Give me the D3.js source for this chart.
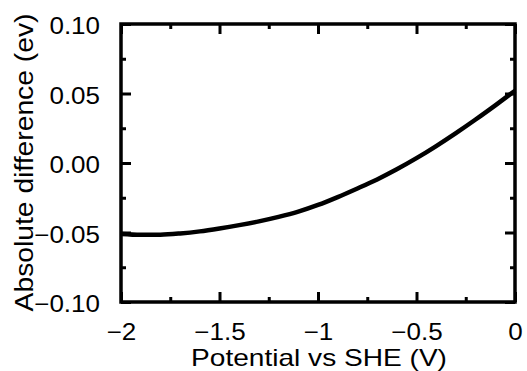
<!DOCTYPE html>
<html>
<head>
<meta charset="utf-8">
<script src="https://cdn.jsdelivr.net/npm/d3@7"></script>
<style>
  html, body { margin: 0; padding: 0; background: #fff; }
  svg { display: block; }
  text { font-family: "Liberation Sans", Arial, Helvetica, sans-serif; fill: #000; }
</style>
</head>
<body>
<svg id="chart" width="527" height="371"></svg>
<script>
// Potential vs SHE (V)
const potential = [-2.0, -1.9, -1.8, -1.7, -1.6, -1.5, -1.4, -1.3, -1.2, -1.1, -1.0,
                   -0.9, -0.8, -0.7, -0.6, -0.5, -0.4, -0.3, -0.2, -0.1, 0.0];
// Absolute difference (eV)
const difference = [-0.0511, -0.0517, -0.0516, -0.0507, -0.0492, -0.0471, -0.0447, -0.0420,
                    -0.0388, -0.0350, -0.0302, -0.0245, -0.0183, -0.0118, -0.0045, 0.0035,
                    0.0122, 0.0215, 0.0313, 0.0415, 0.0520];
const xMajorTicks = [-2, -1.5, -1, -0.5, 0];
const xMinorTicks = [-1.75, -1.25, -0.75, -0.25];
const yMajorTicks = [-0.10, -0.05, 0.00, 0.05, 0.10];
const yMinorTicks = [-0.075, -0.025, 0.025, 0.075];

const svg = d3.select("#chart");
const plotLeft = 121, plotRight = 515, plotTop = 24, plotBottom = 302;

const x = d3.scaleLinear().domain([-2, 0]).range([plotLeft, plotRight]);
const y = d3.scaleLinear().domain([-0.1, 0.1]).range([plotBottom, plotTop]);

const majorLen = 10, minorLen = 5;
const tickFont = 23;

// Stretch a text along its baseline by a given factor (the typeface is drawn wider than Liberation Sans)
function widenText(sel, factor = 1.13) {
  sel.each(function () {
    const len = this.getComputedTextLength();
    if (len > 0) {
      d3.select(this).attr("textLength", len * factor).attr("lengthAdjust", "spacingAndGlyphs");
    }
  });
}

function styleAxis(g) {
  g.select(".domain").remove();
  g.selectAll(".tick line").attr("stroke", "#000").attr("stroke-width", 3);
  g.selectAll(".tick text").attr("font-size", tickFont)
    .attr("font-family", "'Liberation Sans', Arial, Helvetica, sans-serif")
    .call(widenText);
}

// Bottom and left axes carry labels
svg.append("g").attr("transform", `translate(0,${plotBottom})`)
  .call(d3.axisBottom(x).tickValues(xMajorTicks).tickSize(-majorLen).tickPadding(21.5)
        .tickFormat(d3.format("")))
  .call(styleAxis);
svg.append("g").attr("transform", `translate(${plotLeft},0)`)
  .call(d3.axisLeft(y).tickValues(yMajorTicks).tickSize(-majorLen).tickPadding(21)
        .tickFormat(d3.format(".2f")))
  .call(g => g.selectAll(".tick text").attr("dy", "0.42em"))
  .call(styleAxis);

// Top and right mirrored ticks, no labels
svg.append("g").attr("transform", `translate(0,${plotTop})`)
  .call(d3.axisTop(x).tickValues(xMajorTicks).tickSize(-majorLen).tickFormat(""))
  .call(styleAxis);
svg.append("g").attr("transform", `translate(${plotRight},0)`)
  .call(d3.axisRight(y).tickValues(yMajorTicks).tickSize(-majorLen).tickFormat(""))
  .call(styleAxis);

// Minor ticks on all four sides
svg.append("g").attr("transform", `translate(0,${plotBottom})`)
  .call(d3.axisBottom(x).tickValues(xMinorTicks).tickSize(-minorLen).tickFormat(""))
  .call(styleAxis);
svg.append("g").attr("transform", `translate(0,${plotTop})`)
  .call(d3.axisTop(x).tickValues(xMinorTicks).tickSize(-minorLen).tickFormat(""))
  .call(styleAxis);
svg.append("g").attr("transform", `translate(${plotLeft},0)`)
  .call(d3.axisLeft(y).tickValues(yMinorTicks).tickSize(-minorLen).tickFormat(""))
  .call(styleAxis);
svg.append("g").attr("transform", `translate(${plotRight},0)`)
  .call(d3.axisRight(y).tickValues(yMinorTicks).tickSize(-minorLen).tickFormat(""))
  .call(styleAxis);

// Data curve
const data = potential.map((p, i) => [p, difference[i]]);
svg.append("path")
  .datum(data)
  .attr("fill", "none")
  .attr("stroke", "#000")
  .attr("stroke-width", 4.5)
  .attr("d", d3.line().x(d => x(d[0])).y(d => y(d[1])).curve(d3.curveMonotoneX));

// Plot frame
svg.append("rect")
  .attr("x", plotLeft).attr("y", plotTop)
  .attr("width", plotRight - plotLeft).attr("height", plotBottom - plotTop)
  .attr("fill", "none").attr("stroke", "#000").attr("stroke-width", 3.5);

// Axis titles
svg.append("text")
  .attr("x", (plotLeft + plotRight) / 2 + 1).attr("y", 366)
  .attr("text-anchor", "middle").attr("font-size", 24)
  .text("Potential vs SHE (V)")
  .call(widenText, 1.17);
svg.append("text")
  .attr("transform", `translate(33,${(13 + 312) / 2}) rotate(-90)`)
  .attr("text-anchor", "middle").attr("font-size", 25)
  .text("Absolute difference (ev)")
  .call(widenText);
</script>
</body>
</html>
